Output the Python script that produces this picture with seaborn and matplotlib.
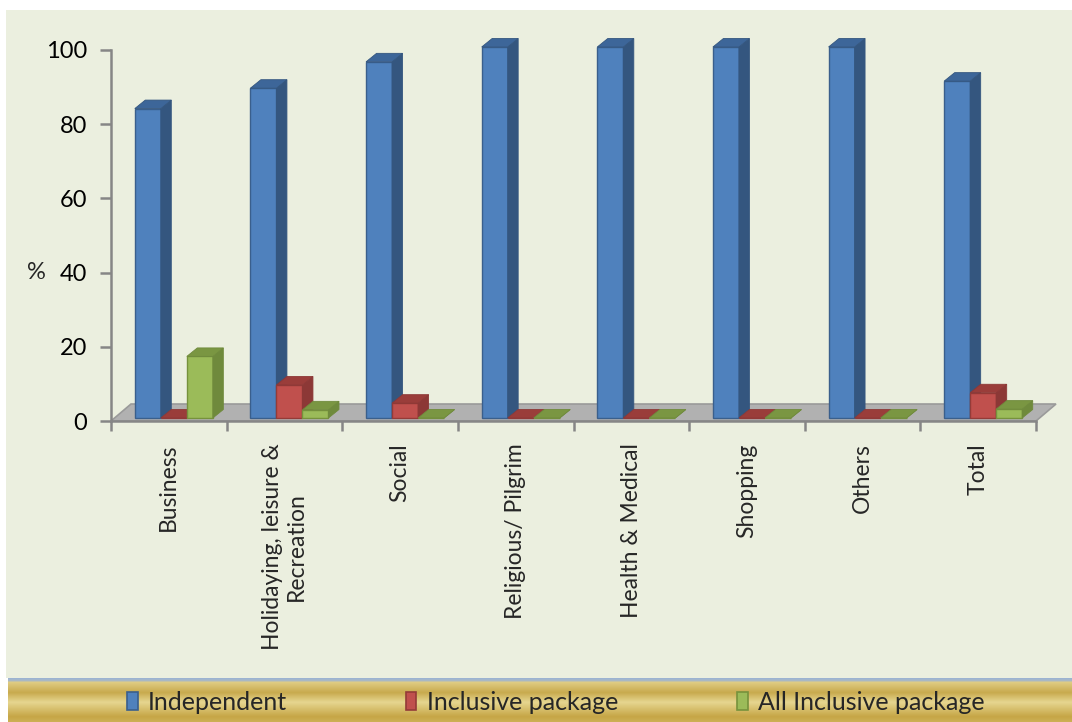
import numpy as np
import pandas as pd
import matplotlib
matplotlib.use("Agg")
import matplotlib.pyplot as plt
import matplotlib.transforms as mtransforms
from matplotlib.patches import Polygon, Rectangle, Patch
from matplotlib.colors import LinearSegmentedColormap
import seaborn as sns

# ---- data -------------------------------------------------------------
categories = ["Business", "Holidaying, leisure &\nRecreation", "Social",
              "Religious/ Pilgrim", "Health & Medical", "Shopping",
              "Others", "Total"]
independent = [83.4, 88.9, 96.0, 100, 100, 100, 100, 90.8]
inclusive = [0, 8.9, 4.0, 0, 0, 0, 0, 6.8]
all_inclusive = [16.6, 2.2, 0, 0, 0, 0, 0, 2.4]
series_names = ["Independent", "Inclusive package", "All Inclusive package"]
y_ticks = [0, 20, 40, 60, 80, 100]

# ---- styling ----------------------------------------------------------
front_cols = ["#4F81BD", "#C0504D", "#9BBB59"]
side_cols = ["#34567F", "#8C3836", "#6F8A3C"]
top_cols = ["#3D6699", "#9A3D3A", "#7A9642"]
edge_cols = ["#3A5F8C", "#943B38", "#76923C"]
bg_col = "#EBEFDF"
axis_col = "#868686"

sns.set_theme(style="white")
plt.rcParams["font.family"] = ["Lato", "DejaVu Sans"]

W, H = 1072, 722
fig = plt.figure(figsize=(W / 100, H / 100), dpi=100)
fig.patch.set_facecolor("white")

# chart background panel
fig.add_artist(Rectangle((6 / W, 44 / H), 1 - 6 / W, (H - 10 - 44) / H,
                         transform=fig.transFigure, facecolor=bg_col,
                         edgecolor="none", zorder=-10))

# ---- gold legend band -------------------------------------------------
band_ax = fig.add_axes([8 / W, 0, 1 - 8 / W, 44 / H])
band_cmap = LinearSegmentedColormap.from_list(
    "band",
    [(0.0, "#9BB3D3"), (0.06, "#A9B9C6"), (0.09, "#E0CD84"),
     (0.33, "#C8AA4E"), (0.55, "#E6D690"), (0.88, "#C6A646"),
     (1.0, "#CDB055")])
band_ax.imshow(np.linspace(0, 1, 200).reshape(-1, 1), aspect="auto",
               cmap=band_cmap, extent=(0, 1, 0, 1), origin="upper")
band_ax.set_axis_off()

# ---- main axes --------------------------------------------------------
ax = fig.add_axes([111 / W, (H - 421) / H, (1036 - 111) / W, 371 / H])
ax.set_facecolor("none")

df = pd.DataFrame({
    "category": np.repeat(categories, 3),
    "series": series_names * len(categories),
    "value": np.ravel(np.column_stack([independent, inclusive, all_inclusive])),
})

sns.barplot(data=df, x="category", y="value", hue="series",
            hue_order=series_names, order=categories,
            palette=front_cols, saturation=1, width=0.675,
            legend=False, ax=ax, zorder=3)

ax.set_xlim(-0.5, len(categories) - 0.5)
ax.set_ylim(0, 100)

# floor of the 3-D box
px_x = (1036 - 111) / len(categories)      # pixels per category
px_y = 371 / 100                           # pixels per unit
fdx, fdy = 20 / px_x, 17 / px_y
n = len(categories)
ax.add_patch(Polygon([(-0.5, 0), (n - 0.5, 0), (n - 0.5 + fdx, fdy),
                      (-0.5 + fdx, fdy)], closed=True,
                     facecolor="#B1B1B1", edgecolor="#9A9A9A", lw=1.2,
                     zorder=1, clip_on=False))

# bars sit slightly in front of the axis plane
shift = mtransforms.ScaledTranslation(5 / 100, 3 / 100, fig.dpi_scale_trans)
bdx, bdy = 10.5 / px_x, 8.5 / px_y

for s_idx, container in enumerate(ax.containers):
    for c_idx, bar in enumerate(container.patches):
        z = 3 + c_idx * 0.1 + s_idx * 0.01
        tr = ax.transData + shift
        bar.set_transform(tr)
        bar.set_clip_on(False)
        bar.set_zorder(z)
        bar.set_edgecolor(edge_cols[s_idx])
        bar.set_linewidth(1.0)
        x0, w, h = bar.get_x(), bar.get_width(), bar.get_height()
        side = Polygon([(x0 + w, 0), (x0 + w + bdx, bdy),
                        (x0 + w + bdx, h + bdy), (x0 + w, h)], closed=True,
                       facecolor=side_cols[s_idx], edgecolor=side_cols[s_idx],
                       lw=0.6, transform=tr, clip_on=False, zorder=z)
        top = Polygon([(x0, h), (x0 + w, h), (x0 + w + bdx, h + bdy),
                       (x0 + bdx, h + bdy)], closed=True,
                      facecolor=top_cols[s_idx], edgecolor=side_cols[s_idx],
                      lw=0.6, transform=tr, clip_on=False, zorder=z)
        ax.add_patch(side)
        ax.add_patch(top)

# ---- axes styling ----------------------------------------------------
for sp in ["top", "right"]:
    ax.spines[sp].set_visible(False)
for sp in ["left", "bottom"]:
    ax.spines[sp].set_color(axis_col)
    ax.spines[sp].set_linewidth(1.8)
    ax.spines[sp].set_zorder(2)

ax.set_yticks(y_ticks)
ax.set_yticklabels([str(v) for v in y_ticks], fontsize=17, color="black")
ax.tick_params(axis="y", direction="out", length=8, width=1.8,
               color=axis_col, pad=9, left=True)

ax.set_xticks(np.arange(-0.5, n, 1.0))
ax.set_xticklabels([])
ax.tick_params(axis="x", which="major", direction="out", length=7,
               width=1.8, color=axis_col, bottom=True)
ax.set_xticks(np.arange(n), minor=True)
ax.set_xticklabels(categories, minor=True, rotation=90, fontsize=16.5,
                   ha="center", va="top", multialignment="center")
ax.tick_params(axis="x", which="minor", length=0, pad=16, bottom=True)

ax.set_xlabel("")
ax.set_ylabel("%", rotation=0, fontsize=17, va="center", ha="center")
ax.yaxis.set_label_coords(-0.081, 0.40)

# ---- legend -----------------------------------------------------------
handles = [Patch(facecolor=front_cols[i], edgecolor=edge_cols[i], lw=1.2)
           for i in range(3)]
fig.legend(handles, series_names, loc="center left",
           bbox_to_anchor=(127 / W, 20 / H), ncol=3, frameon=False,
           fontsize=18, handlelength=0.42, handleheight=0.7,
           handletextpad=0.42, columnspacing=4.75, borderpad=0,
           borderaxespad=0)

fig.savefig("out.png", dpi=100, facecolor=fig.get_facecolor())
